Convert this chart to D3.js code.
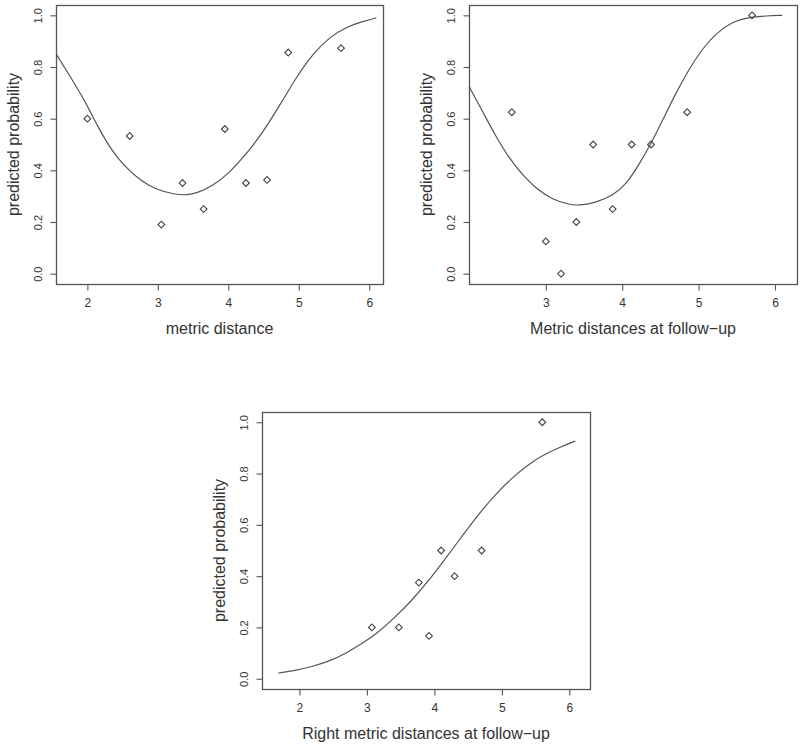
<!DOCTYPE html>
<html>
<head>
<meta charset="utf-8">
<script src="https://cdn.jsdelivr.net/npm/d3@7/dist/d3.min.js"></script>
<style>
  body { margin: 0; background: #fff; }
  svg { display: block; }
  text { font-family: "Liberation Sans", Arial, sans-serif; fill: #333; }
</style>
</head>
<body>
<div id="chart"></div>
<script>
const metricX = [2.0, 2.6, 3.05, 3.35, 3.65, 3.95, 4.25, 4.55, 4.85, 5.6];
const metricY = [0.6, 0.533, 0.19, 0.351, 0.25, 0.56, 0.351, 0.363, 0.856, 0.873];
const metricFitX = [1.565, 1.764, 1.977, 2.142, 2.332, 2.521, 2.758, 2.995, 3.232, 3.42, 3.544, 3.781,
  4.017, 4.254, 4.49, 4.727, 4.965, 5.2, 5.438, 5.675, 5.912, 6.1];
const metricFitY = [0.847, 0.76, 0.663, 0.572, 0.482, 0.417, 0.359, 0.324, 0.307, 0.304, 0.311, 0.339,
  0.391, 0.462, 0.547, 0.65, 0.761, 0.851, 0.916, 0.955, 0.977, 0.99];

const followX = [2.555, 3.0, 3.2, 3.4, 3.62, 3.875, 4.124, 4.377, 4.85, 5.7];
const followY = [0.625, 0.125, 0.0, 0.2, 0.5, 0.25, 0.5, 0.5, 0.625, 1.0];
const followFitX = [1.996, 2.175, 2.349, 2.523, 2.699, 2.873, 3.092, 3.31, 3.44, 3.66, 3.878, 4.052,
  4.226, 4.38, 4.533, 4.707, 4.88, 5.057, 5.231, 5.45, 5.667, 5.886, 6.096];
const followFitY = [0.724, 0.627, 0.53, 0.446, 0.381, 0.329, 0.286, 0.267, 0.264, 0.275, 0.303, 0.345,
  0.425, 0.505, 0.596, 0.702, 0.795, 0.873, 0.931, 0.977, 0.993, 0.998, 1.0];

const rightX = [3.073, 3.473, 3.77, 3.92, 4.1, 4.3, 4.7, 5.6];
const rightY = [0.2, 0.2, 0.375, 0.167, 0.5, 0.4, 0.5, 1.0];
const rightFitX = [1.688, 1.935, 2.18, 2.43, 2.677, 2.924, 3.172, 3.418, 3.666, 3.914, 4.16, 4.408,
  4.656, 4.902, 5.15, 5.398, 5.644, 5.89, 6.09];
const rightFitY = [0.022, 0.032, 0.047, 0.067, 0.097, 0.136, 0.181, 0.24, 0.305, 0.382, 0.467, 0.555,
  0.642, 0.718, 0.783, 0.837, 0.877, 0.906, 0.927];

const yTicks = [0, 0.2, 0.4, 0.6, 0.8, 1.0];
const yTitle = 'predicted probability';

const panels = [
  { left: 56, top: 5, right: 383, bottom: 284, xDomain: [1.555, 6.195],
    xTicks: [2, 3, 4, 5, 6], xTitle: 'metric distance',
    px: metricX, py: metricY, cx: metricFitX, cy: metricFitY },
  { left: 469, top: 5, right: 797, bottom: 284, xDomain: [1.995, 6.288],
    xTicks: [3, 4, 5, 6], xTitle: 'Metric distances at follow\u2212up',
    px: followX, py: followY, cx: followFitX, cy: followFitY },
  { left: 262, top: 412, right: 590, bottom: 689, xDomain: [1.445, 6.307],
    xTicks: [2, 3, 4, 5, 6], xTitle: 'Right metric distances at follow\u2212up',
    px: rightX, py: rightY, cx: rightFitX, cy: rightFitY },
];

const W = 800, H = 744;
const ink = '#555';

const svg = d3.select('#chart')
  .append('svg')
  .attr('width', W)
  .attr('height', H);

const diamond = d3.symbol(d3.symbolSquare, 23);

panels.forEach((p) => {
  const x = d3.scaleLinear().domain(p.xDomain).range([p.left, p.right]);
  const y = d3.scaleLinear().domain([-0.04, 1.04]).range([p.bottom, p.top]);

  const g = svg.append('g');

  // frame
  g.append('rect')
    .attr('x', p.left + 0.5)
    .attr('y', p.top + 0.5)
    .attr('width', p.right - p.left)
    .attr('height', p.bottom - p.top)
    .attr('fill', 'none')
    .attr('stroke', ink)
    .attr('stroke-width', 1.3);

  // x axis
  const xAxis = g.append('g')
    .attr('transform', 'translate(0,' + (p.bottom + 0.5) + ')')
    .call(d3.axisBottom(x).tickValues(p.xTicks).tickSize(6).tickPadding(8).tickFormat(d3.format('d')));
  xAxis.select('.domain').remove();
  xAxis.selectAll('line').attr('stroke', ink).attr('stroke-width', 1.1);
  xAxis.selectAll('text')
    .style('font-size', '12px')
    .style('font-family', '"Liberation Sans", Arial, sans-serif')
    .attr('fill', '#333');

  // y axis, R style rotated tick labels
  const yAxis = g.append('g')
    .attr('transform', 'translate(' + (p.left + 0.5) + ',0)')
    .call(d3.axisLeft(y).tickValues(yTicks).tickSize(6).tickFormat(d3.format('.1f')));
  yAxis.select('.domain').remove();
  yAxis.selectAll('line').attr('stroke', ink).attr('stroke-width', 1.1);
  yAxis.selectAll('text')
    .attr('x', null)
    .attr('dy', null)
    .attr('transform', 'translate(-19,0) rotate(-90)')
    .attr('text-anchor', 'middle')
    .attr('dominant-baseline', 'central')
    .style('font-size', '11px')
    .style('font-family', '"Liberation Sans", Arial, sans-serif')
    .attr('fill', '#333');

  // axis titles
  g.append('text')
    .attr('x', (p.left + p.right) / 2)
    .attr('y', p.bottom + 44)
    .attr('text-anchor', 'middle')
    .attr('dominant-baseline', 'central')
    .style('font-size', '16px')
    .text(p.xTitle);

  g.append('text')
    .attr('transform', 'translate(' + (p.left - 43) + ',' + (p.top + p.bottom) / 2 + ') rotate(-90)')
    .attr('text-anchor', 'middle')
    .attr('dominant-baseline', 'central')
    .style('font-size', '16px')
    .text(yTitle);

  // fitted curve
  const fit = p.cx.map((v, i) => [v, p.cy[i]]);
  g.append('path')
    .datum(fit)
    .attr('fill', 'none')
    .attr('stroke', ink)
    .attr('stroke-width', 1.2)
    .attr('d', d3.line().x((d) => x(d[0])).y((d) => y(d[1])).curve(d3.curveBasis));

  // observed points
  const pts = p.px.map((v, i) => [v, p.py[i]]);
  g.selectAll('.pt')
    .data(pts)
    .join('path')
    .attr('class', 'pt')
    .attr('d', diamond)
    .attr('transform', (d) => 'translate(' + x(d[0]) + ',' + y(d[1]) + ') rotate(45)')
    .attr('fill', 'none')
    .attr('stroke', '#444')
    .attr('stroke-width', 1.1);
});
</script>
</body>
</html>
